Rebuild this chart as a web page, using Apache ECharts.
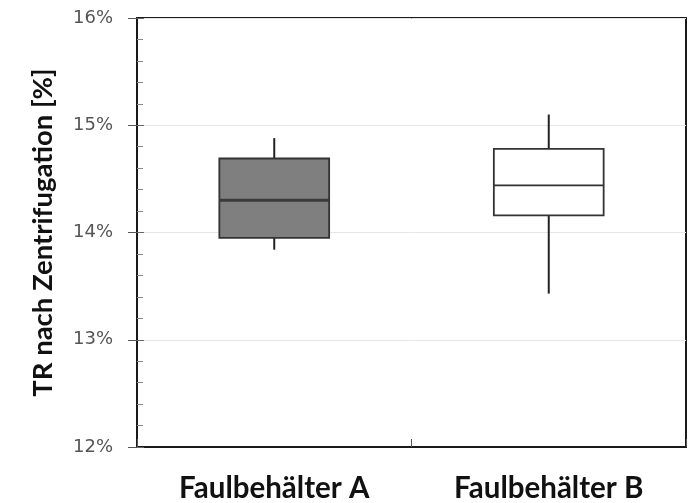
<!DOCTYPE html>
<html><head><meta charset="utf-8">
<script src="https://cdn.jsdelivr.net/npm/echarts@6/dist/echarts.min.js"></script>
<style>html,body{margin:0;padding:0;background:#fff}#c{width:691px;height:503px}</style>
</head><body><div id="c"></div>
<script>
const categories = ['Faulbehälter A', 'Faulbehälter B'];
// [min, Q1, median, Q3, max] in %
const boxA = [13.84, 13.95, 14.30, 14.69, 14.88];
const boxB = [13.43, 14.16, 14.44, 14.78, 15.10];
const boxes = [boxA, boxB];
const fills = ['#7f7f7f', '#ffffff'];
const yMin = 12, yMax = 16, yStep = 1;

const chart = echarts.init(document.getElementById('c'));
const font = 'Lato, "Open Sans", sans-serif';
chart.setOption({
  animation: false,
  grid: { left: 137, right: 5, top: 18, bottom: 56, show: true, borderColor: '#1a1a1a', borderWidth: 2, backgroundColor: 'transparent' },
  xAxis: {
    type: 'category', data: categories, boundaryGap: true,
    axisLine: { lineStyle: { color: '#1a1a1a', width: 2 } },
    axisTick: { show: true, inside: true, length: 8, lineStyle: { color: '#555' } },
    axisLabel: { color: '#111', fontSize: 29.5, fontWeight: 'bold', fontFamily: font, margin: 26 }
  },
  yAxis: [{
    type: 'value', min: yMin, max: yMax, interval: yStep,
    name: 'TR nach Zentrifugation [%]', nameLocation: 'middle', nameGap: 80, nameRotate: 90,
    nameTextStyle: { color: '#111', fontSize: 27.5, fontWeight: 'bold', fontFamily: font },
    axisLine: { show: true, lineStyle: { color: '#1a1a1a', width: 2 } },
    axisTick: { show: true, inside: true, length: 7, lineStyle: { color: '#666' } },
    minorTick: { show: true, splitNumber: 5, length: 6, lineStyle: { color: '#888' } },
    axisLabel: { color: '#555', fontSize: 18, fontFamily: '"DejaVu Sans", sans-serif', margin: 24, formatter: '{value}%' },
    splitLine: { show: true, lineStyle: { color: '#e6e6e6', width: 1 } }
  }, {
    type: 'value', min: yMin, max: yMax, interval: yStep, position: 'left',
    axisLine: { show: false }, axisLabel: { show: false }, splitLine: { show: false },
    axisTick: { show: true, inside: false, length: 9, lineStyle: { color: '#555' } }
  }],
  series: [{
    type: 'custom',
    data: boxes.map((b, i) => [i].concat(b)),
    encode: { x: 0, y: [1, 2, 3, 4, 5] },
    renderItem: function (params, api) {
      const i = api.value(0);
      const pMin = api.coord([i, api.value(1)]);
      const pQ1 = api.coord([i, api.value(2)]);
      const pMed = api.coord([i, api.value(3)]);
      const pQ3 = api.coord([i, api.value(4)]);
      const pMax = api.coord([i, api.value(5)]);
      const w = api.size([1, 0])[0] * 0.4;
      const x = pMed[0];
      const line = { stroke: '#222', lineWidth: 2 };
      return {
        type: 'group',
        children: [
          { type: 'line', shape: { x1: x, y1: pMax[1], x2: x, y2: pQ3[1] }, style: line },
          { type: 'line', shape: { x1: x, y1: pQ1[1], x2: x, y2: pMin[1] }, style: line },
          { type: 'rect', shape: { x: x - w / 2, y: pQ3[1], width: w, height: pQ1[1] - pQ3[1] },
            style: { fill: fills[i], stroke: '#333', lineWidth: 1.8 } },
          { type: 'line', shape: { x1: x - w / 2, y1: pMed[1], x2: x + w / 2, y2: pMed[1] },
            style: { stroke: i === 0 ? '#3a3a3a' : '#333', lineWidth: i === 0 ? 3 : 1.8 } }
        ]
      };
    }
  }]
});
</script></body></html>
